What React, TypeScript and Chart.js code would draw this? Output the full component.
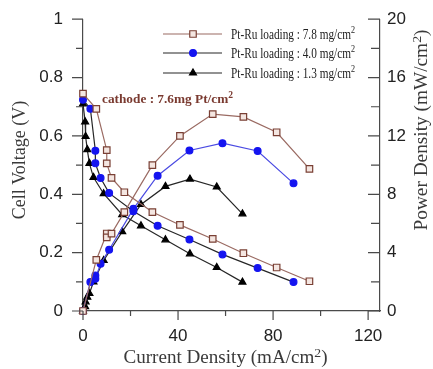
import React, { useEffect, useRef } from "react";
import { Chart, registerables } from "chart.js";

Chart.register(...registerables);

// ---------- data ----------
const legendLabels = [
  "Pt-Ru loading : 7.8 mg/cm²",
  "Pt-Ru loading : 4.0 mg/cm²",
  "Pt-Ru loading : 1.3 mg/cm²",
];
const annotationText = "cathode : 7.6mg Pt/cm²";

const brownCurrent = [0, 5.6, 10, 10, 12, 17.4, 29.2, 40.8, 54.6, 67.5, 81.5, 95.3];
const brownVoltage = [0.745, 0.693, 0.551, 0.506, 0.456, 0.407, 0.339, 0.295, 0.247, 0.198, 0.149, 0.102];
const brownPower = [0, 3.5, 5.31, 5.04, 5.3, 6.78, 10.0, 12.0, 13.5, 13.3, 12.25, 9.74];

const blueCurrent = [0, 3.1, 5.2, 5.2, 7.4, 11, 21.2, 31.4, 44.8, 58.7, 73.5, 88.6];
const blueVoltage = [0.724, 0.693, 0.549, 0.506, 0.456, 0.404, 0.342, 0.292, 0.245, 0.194, 0.147, 0.099];
const bluePower = [0, 1.99, 2.44, 2.21, 3.23, 4.2, 7.0, 9.27, 11.0, 11.5, 10.97, 8.75];

const blackCurrent = [0, 0.9, 1.1, 1.8, 2.7, 4.4, 8.7, 16.5, 24.4, 34.7, 45, 56.3, 67.1];
const blackVoltage = [0.71, 0.648, 0.598, 0.553, 0.506, 0.458, 0.402, 0.33, 0.292, 0.244, 0.196, 0.149, 0.099];
const blackPower = [0, 0.3, 0.63, 0.95, 1.2, 1.99, 3.46, 5.44, 7.3, 8.54, 9.04, 8.5, 6.66];

const xTitle = "Current Density (mA/cm²)";
const yTitle = "Cell Voltage (V)";
const y2Title = "Power Density (mW/cm²)";

// ---------- styles ----------
const axisColor = "#4a4a4a";
const tickFont = { family: "Liberation Sans", size: 17 };
const serif = "Liberation Serif";

const brownLine = "#9a6a62";
const brownEdge = "#7a4035";
const brownFill = "#f4e6e1";
const blueDot = "#1414f0";
const bluePowerLine = "#4a4ae2";
const darkLine = "#262626";

const series = [
  { cur: brownCurrent, v: brownVoltage, p: brownPower, style: "rect", radius: 4.6, fill: brownFill, edge: brownEdge, lineV: brownLine, lineP: brownLine },
  { cur: blueCurrent, v: blueVoltage, p: bluePower, style: "circle", radius: 3.4, fill: blueDot, edge: blueDot, lineV: darkLine, lineP: bluePowerLine },
  { cur: blackCurrent, v: blackVoltage, p: blackPower, style: "triangle", radius: 4.0, fill: "#000", edge: "#000", lineV: darkLine, lineP: darkLine },
];

function drawMarker(ctx: CanvasRenderingContext2D, style: string, x: number, y: number, r: number, fill: string, edge: string) {
  ctx.beginPath();
  if (style === "rect") {
    const s = Math.SQRT1_2 * r;
    ctx.rect(x - s, y - s, 2 * s, 2 * s);
  } else if (style === "circle") {
    ctx.arc(x, y, r, 0, Math.PI * 2);
  } else {
    let a = 0;
    ctx.moveTo(x + Math.sin(a) * r, y - Math.cos(a) * r);
    a += (2 * Math.PI) / 3;
    ctx.lineTo(x + Math.sin(a) * r, y - Math.cos(a) * r);
    a += (2 * Math.PI) / 3;
    ctx.lineTo(x + Math.sin(a) * r, y - Math.cos(a) * r);
    ctx.closePath();
  }
  ctx.fillStyle = fill;
  ctx.fill();
  ctx.lineWidth = 1.2;
  ctx.strokeStyle = edge;
  ctx.stroke();
}

// draws text (baseline at y) where "²" is rendered as a raised smaller "2"
function drawSup(
  ctx: CanvasRenderingContext2D,
  text: string,
  x: number,
  y: number,
  size: number,
  weight: string,
  align: "left" | "center",
  targetWidth?: number
) {
  const parts = text.split("²");
  const baseFont = `${weight} ${size}px "${serif}"`;
  const supFont = `${weight} ${size * 0.72}px "${serif}"`;
  ctx.font = baseFont;
  const w0 = ctx.measureText(parts[0]).width;
  const w1 = parts.length > 1 ? ctx.measureText(parts[1]).width : 0;
  ctx.font = supFont;
  const ws = parts.length > 1 ? ctx.measureText("2").width : 0;
  const total = w0 + ws + w1;
  const sx = targetWidth ? targetWidth / total : 1;
  ctx.save();
  ctx.translate(x, y);
  ctx.scale(sx, 1);
  ctx.textAlign = "left";
  ctx.textBaseline = "alphabetic";
  let cx = align === "center" ? -total / 2 : 0;
  ctx.font = baseFont;
  ctx.fillText(parts[0], cx, 0);
  cx += w0;
  if (parts.length > 1) {
    ctx.font = supFont;
    ctx.fillText("2", cx, -size * 0.36);
    cx += ws;
    ctx.font = baseFont;
    ctx.fillText(parts[1], cx, 0);
  }
  ctx.restore();
}

const decorPlugin = {
  id: "decor",
  afterDraw(chart: any) {
    const ctx: CanvasRenderingContext2D = chart.ctx;
    const { left, right, bottom } = chart.chartArea;
    const xs = chart.scales.x;
    const ys = chart.scales.y;
    const y2 = chart.scales.y2;
    ctx.save();
    // tick marks
    ctx.strokeStyle = axisColor;
    ctx.lineWidth = 1.2;
    ctx.beginPath();
    xs.ticks.forEach((t: any) => {
      const px = xs.getPixelForValue(t.value);
      const major = t.label !== "";
      ctx.moveTo(px, bottom);
      ctx.lineTo(px, bottom + (major ? 9 : 5));
    });
    ys.ticks.forEach((t: any) => {
      const py = ys.getPixelForValue(t.value);
      const major = t.label !== "";
      ctx.moveTo(left, py);
      ctx.lineTo(left - (major ? 11 : 7), py);
    });
    y2.ticks.forEach((t: any) => {
      const py = y2.getPixelForValue(t.value);
      const major = t.label !== "";
      ctx.moveTo(right, py);
      ctx.lineTo(right - (major ? 12 : 9), py);
    });
    ctx.stroke();

    // axis titles
    ctx.fillStyle = "#3a3a3a";
    drawSup(ctx, xTitle, (left + right) / 2 - 6, 363, 18, "", "center", 204);
    ctx.save();
    ctx.translate(25, 160);
    ctx.rotate(-Math.PI / 2);
    drawSup(ctx, yTitle, 0, 0, 18, "", "center");
    ctx.restore();
    ctx.save();
    ctx.translate(427, 130);
    ctx.rotate(-Math.PI / 2);
    drawSup(ctx, y2Title, 0, 0, 18, "", "center", 201);
    ctx.restore();

    // legend
    const rows = [34, 53, 73];
    series.forEach((s, i) => {
      const y = rows[i];
      ctx.beginPath();
      ctx.strokeStyle = s.lineV;
      ctx.lineWidth = 1.2;
      ctx.moveTo(163, y);
      ctx.lineTo(222, y);
      ctx.stroke();
      drawMarker(ctx, s.style, 193, y, s.radius, s.fill, s.edge);
      ctx.fillStyle = "#222";
      drawSup(ctx, legendLabels[i], 231, y + 4.5, 14, "", "left", 124);
    });

    // annotation
    ctx.fillStyle = "#7a3a30";
    drawSup(ctx, annotationText, xs.getPixelForValue(8), ys.getPixelForValue(0.729) + 4.5, 13, "bold", "left", 131);
    ctx.restore();
  },
};

export default function App() {
  const ref = useRef<HTMLCanvasElement | null>(null);
  useEffect(() => {
    if (!ref.current) return;
    const datasets: any[] = [];
    series.forEach((s, i) => {
      datasets.push({
        label: legendLabels[i],
        data: s.cur.map((c, k) => ({ x: c, y: s.v[k] })),
        yAxisID: "y",
        borderColor: s.lineV,
        borderWidth: 1.2,
        pointStyle: s.style,
        pointRadius: s.radius,
        pointBackgroundColor: s.fill,
        pointBorderColor: s.edge,
        pointBorderWidth: 1.2,
        showLine: true,
        tension: 0,
        clip: false,
      });
      datasets.push({
        label: legendLabels[i] + " (power)",
        data: s.cur.map((c, k) => ({ x: c, y: s.p[k] })),
        yAxisID: "y2",
        borderColor: s.lineP,
        borderWidth: 1.2,
        pointStyle: s.style,
        pointRadius: s.radius,
        pointBackgroundColor: s.fill,
        pointBorderColor: s.edge,
        pointBorderWidth: 1.2,
        showLine: true,
        tension: 0,
        clip: false,
      });
    });
    const chart = new Chart(ref.current, {
      type: "line",
      data: { datasets },
      options: {
        animation: false,
        responsive: false,
        events: [],
        layout: { padding: { top: 16, left: 0, right: 0, bottom: 0 } },
        plugins: { legend: { display: false }, tooltip: { enabled: false } },
        scales: {
          x: {
            type: "linear",
            position: "bottom",
            min: 0,
            max: 125,
            grid: { display: false, drawTicks: true, tickLength: 9 },
            border: { display: true, color: axisColor, width: 1.2 },
            ticks: {
              stepSize: 20,
              includeBounds: false,
              autoSkip: false,
              maxRotation: 0,
              padding: 6,
              color: "#222",
              font: tickFont,
              callback: (v: any) => (Math.round(v) % 40 === 0 ? String(Math.round(v)) : ""),
            },
            afterFit: (s: any) => {
              s.height = 58;
            },
          },
          y: {
            type: "linear",
            position: "left",
            min: 0,
            max: 1,
            grid: { display: false, drawTicks: true, tickLength: 11 },
            border: { display: true, color: axisColor, width: 1.2 },
            ticks: {
              stepSize: 0.1,
              autoSkip: false,
              padding: 9,
              color: "#222",
              font: tickFont,
              callback: (v: any) => {
                const n = Math.round(v * 10);
                return n % 2 === 0 ? String(n / 10) : "";
              },
            },
            afterFit: (s: any) => {
              s.width = 83;
            },
          },
          y2: {
            type: "linear",
            position: "right",
            min: 0,
            max: 20,
            grid: { display: false, drawTicks: false },
            border: { display: true, color: axisColor, width: 1.2 },
            ticks: {
              stepSize: 2,
              autoSkip: false,
              padding: 7,
              color: "#222",
              font: tickFont,
              callback: (v: any) => (Math.round(v) % 4 === 0 ? String(Math.round(v)) : ""),
            },
            afterFit: (s: any) => {
              s.width = 53;
            },
          },
        },
      },
      plugins: [decorPlugin],
    } as any);
    return () => chart.destroy();
  }, []);
  return (
    <div style={{ position: "absolute", left: 0, top: 0, width: 433, height: 369, background: "#fff" }}>
      <canvas ref={ref} width={433} height={369} style={{ display: "block" }} />
    </div>
  );
}
